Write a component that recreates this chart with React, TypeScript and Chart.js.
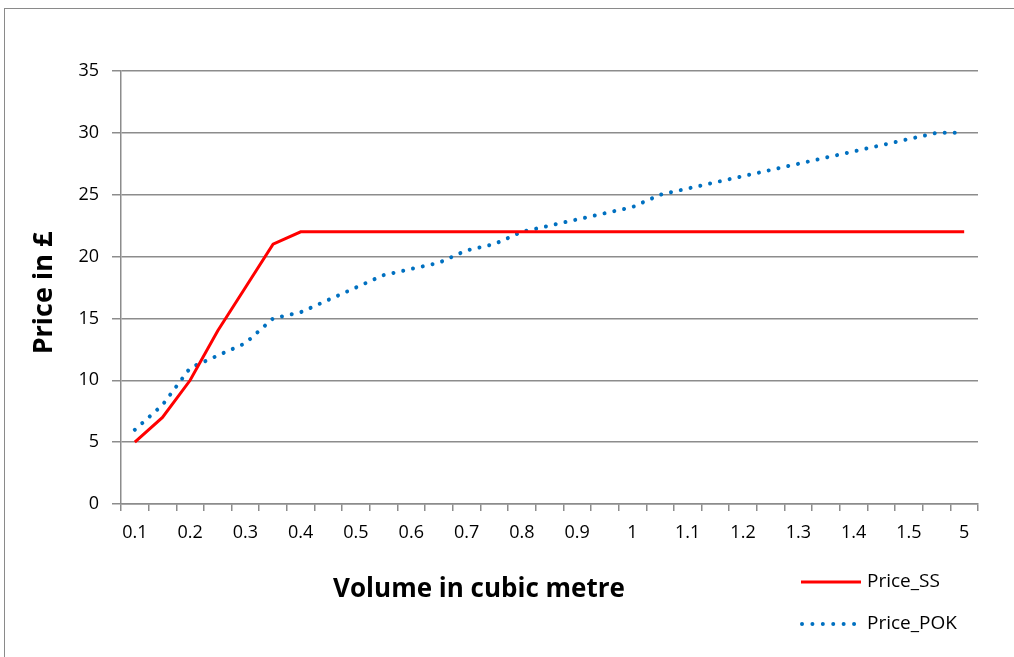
import { useEffect, useRef } from "react";
import { Chart, registerables } from "chart.js";

Chart.register(...registerables);

// Volume categories (cubic metres); every other one is labelled on the axis
const volumes = [
  "0.1", "0.15", "0.2", "0.25", "0.3", "0.35", "0.4", "0.45", "0.5", "0.55",
  "0.6", "0.65", "0.7", "0.75", "0.8", "0.85", "0.9", "0.95", "1", "1.05",
  "1.1", "1.15", "1.2", "1.25", "1.3", "1.35", "1.4", "1.45", "1.5", "2", "5",
];

// Prices in £
const priceSS = [
  5, 7, 10, 14, 17.5, 21, 22, 22, 22, 22,
  22, 22, 22, 22, 22, 22, 22, 22, 22, 22,
  22, 22, 22, 22, 22, 22, 22, 22, 22, 22, 22,
];

const pricePOK = [
  6, 8, 11, 12, 13, 15, 15.5, 16.5, 17.5, 18.5,
  19, 19.5, 20.5, 21, 22, 22.5, 23, 23.5, 24, 25,
  25.5, 26, 26.5, 27, 27.5, 28, 28.5, 29, 29.5, 30, 30,
];

const seriesNames = ["Price_SS", "Price_POK"];
const seriesColors = ["#ff0000", "#0070c0"];

const xTitle = "Volume in cubic metre";
const yTitle = "Price in £";

const FONT = "'Open Sans', 'Liberation Sans', sans-serif";

// Axis titles and the legend block at the lower right
const annotations = {
  id: "annotations",
  afterDraw(chart: Chart) {
    const ctx = chart.ctx;
    ctx.save();
    ctx.fillStyle = "#000";
    ctx.font = `bold 26px ${FONT}`;
    ctx.textAlign = "center";
    ctx.textBaseline = "middle";
    ctx.fillText(xTitle, 479, 590);

    ctx.save();
    ctx.translate(44, 293);
    ctx.rotate(-Math.PI / 2);
    ctx.font = `bold 27px ${FONT}`;
    ctx.fillText(yTitle, 0, 0);
    ctx.restore();

    // legend
    ctx.lineWidth = 3;
    ctx.strokeStyle = seriesColors[0];
    ctx.beginPath();
    ctx.moveTo(801, 582);
    ctx.lineTo(861, 582);
    ctx.stroke();

    ctx.lineWidth = 4;
    ctx.lineCap = "round";
    ctx.setLineDash([0.01, 10.4]);
    ctx.strokeStyle = seriesColors[1];
    ctx.beginPath();
    ctx.moveTo(802, 624);
    ctx.lineTo(856, 624);
    ctx.stroke();
    ctx.setLineDash([]);

    ctx.font = `19px ${FONT}`;
    ctx.textAlign = "left";
    ctx.fillStyle = "#000";
    ctx.fillText(seriesNames[0], 867, 582);
    ctx.fillText(seriesNames[1], 867, 624);
    ctx.restore();
  },
};

export default function App() {
  const canvasRef = useRef<HTMLCanvasElement>(null);

  useEffect(() => {
    const canvas = canvasRef.current;
    if (!canvas) return;
    const chart = new Chart(canvas, {
      type: "line",
      data: {
        labels: volumes,
        datasets: [
          {
            label: seriesNames[0],
            data: priceSS,
            borderColor: seriesColors[0],
            backgroundColor: seriesColors[0],
            borderWidth: 3,
            pointRadius: 0,
            tension: 0,
          },
          {
            label: seriesNames[1],
            data: pricePOK,
            borderColor: seriesColors[1],
            backgroundColor: seriesColors[1],
            borderWidth: 4,
            borderDash: [0.01, 10],
            borderCapStyle: "round",
            pointRadius: 0,
            tension: 0,
          },
        ],
      },
      options: {
        responsive: false,
        animation: false,
        layout: { padding: { left: 0, top: 71, right: 36, bottom: 0 } },
        plugins: {
          legend: { display: false },
          tooltip: { enabled: false },
        },
        scales: {
          x: {
            type: "category",
            offset: true,
            afterFit(scale: any) {
              scale.height = 153;
            },
            grid: {
              display: true,
              offset: true,
              drawOnChartArea: false,
              drawTicks: true,
              tickLength: 7,
              color: "#8c8c8c",
              lineWidth: 1.5,
            },
            border: { display: true, color: "#8c8c8c", width: 1.5 },
            ticks: {
              autoSkip: false,
              maxRotation: 0,
              minRotation: 0,
              padding: 11,
              color: "#000",
              font: { family: FONT, size: 18 },
              callback: (_v: any, i: number) => (i % 2 === 0 ? volumes[i] : ""),
            },
          },
          y: {
            min: 0,
            max: 35,
            afterFit(scale: any) {
              scale.width = 121;
            },
            grid: {
              color: "#8c8c8c",
              lineWidth: 1.5,
              tickLength: 9,
            },
            border: { display: true, color: "#8c8c8c", width: 1.5 },
            ticks: {
              stepSize: 5,
              padding: 13,
              color: "#000",
              font: { family: FONT, size: 18 },
            },
          },
        },
      },
      plugins: [annotations],
    });
    return () => chart.destroy();
  }, []);

  return (
    <div style={{ position: "fixed", left: 0, top: 0, width: 1014, height: 657, background: "#fff", overflow: "hidden" }}>
      <div
        style={{
          position: "absolute",
          left: 4,
          top: 8,
          width: 1030,
          height: 670,
          border: "1.5px solid #8a8a8a",
          boxSizing: "border-box",
        }}
      />
      <canvas ref={canvasRef} width={1014} height={657} style={{ position: "absolute", left: 0, top: 0, display: "block" }} />
    </div>
  );
}
